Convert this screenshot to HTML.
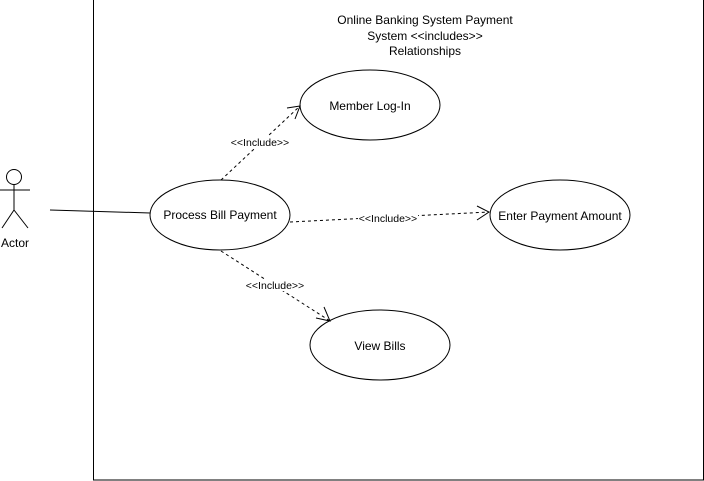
<!DOCTYPE html>
<html><head><style>body{margin:0;background:#fff}svg{display:block}text{font-family:"Liberation Sans",Arial,sans-serif;fill:#000}</style></head><body>
<svg width="704" height="481" viewBox="0 0 704 481" xmlns="http://www.w3.org/2000/svg">
<rect x="93.5" y="-1" width="610" height="481" fill="none" stroke="#000" stroke-width="1"/>
<g font-size="12" text-anchor="middle">
<text x="425" y="24">Online Banking System Payment</text>
<text x="425" y="40">System &lt;&lt;includes&gt;&gt;</text>
<text x="425" y="55">Relationships</text>
</g>
<g stroke="#000" fill="none" stroke-width="1">
<circle cx="14" cy="177" r="7.5"/>
<line x1="14" y1="184.5" x2="14" y2="210"/>
<line x1="0" y1="190" x2="30" y2="190"/>
<line x1="14" y1="210" x2="2" y2="228"/>
<line x1="14" y1="210" x2="28" y2="228"/>
<line x1="50" y1="210" x2="150" y2="213"/>
<ellipse cx="220" cy="215" rx="70" ry="35" fill="#fff"/>
<ellipse cx="370" cy="105" rx="70" ry="35" fill="#fff"/>
<ellipse cx="560" cy="215" rx="70" ry="35" fill="#fff"/>
<ellipse cx="380" cy="345" rx="70" ry="35" fill="#fff"/>
<g stroke-dasharray="3,3">
<line x1="221" y1="180" x2="300" y2="106"/>
<line x1="290" y1="222" x2="489" y2="212"/>
<line x1="221" y1="251" x2="330" y2="321"/>
</g>
<path d="M287 108 L300 106 L295 119"/>
<path d="M477 206 L489 212 L477 220"/>
<path d="M316 318 L330 321 L324 307"/>
</g>
<g font-size="10.5" text-anchor="middle">
<rect x="230" y="136" width="60" height="12" fill="#fff"/>
<text x="260" y="146">&lt;&lt;Include&gt;&gt;</text>
<rect x="358" y="212" width="60" height="12" fill="#fff"/>
<text x="388" y="222">&lt;&lt;Include&gt;&gt;</text>
<rect x="245" y="279" width="60" height="12" fill="#fff"/>
<text x="275" y="289">&lt;&lt;Include&gt;&gt;</text>
</g>
<g font-size="12" text-anchor="middle">
<text x="220" y="219">Process Bill Payment</text>
<text x="370" y="110">Member Log-In</text>
<text x="560" y="220">Enter Payment Amount</text>
<text x="380" y="350">View Bills</text>
<text x="15" y="247">Actor</text>
</g>
</svg>
</body></html>
